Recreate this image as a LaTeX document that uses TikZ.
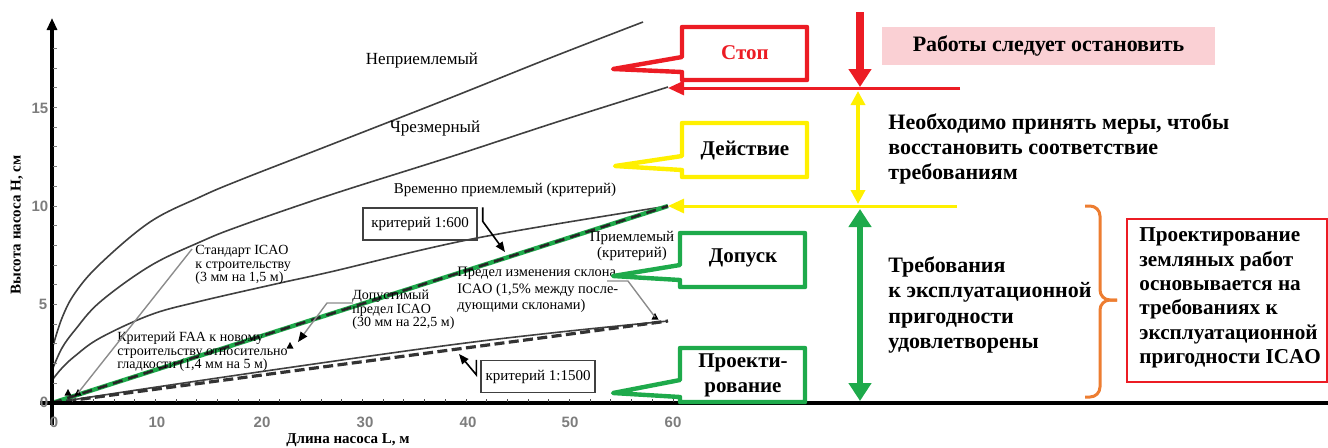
\documentclass[tikz,border=0pt]{standalone}
\usepackage{fontspec}
\setmainfont{Liberation Serif}
\setsansfont{Liberation Sans}
\usetikzlibrary{arrows.meta}
\definecolor{cred}{RGB}{236,28,36}
\definecolor{cyel}{RGB}{255,240,0}
\definecolor{cgrn}{RGB}{30,170,75}
\definecolor{cpink}{RGB}{250,208,212}
\definecolor{corg}{RGB}{237,125,49}
\definecolor{tickgray}{RGB}{125,125,125}
\definecolor{leadgray}{RGB}{140,140,140}
\begin{document}
\begin{tikzpicture}[x=0.5pt,y=-0.5pt,
  axisline/.style={line width=1.6pt,black},
  curve/.style={line width=0.8pt,black!75},
  small/.style={font=\fontsize{7}{6.8}\selectfont,inner sep=0pt,align=left,anchor=west},
  ticklab/.style={font=\sffamily\bfseries\fontsize{7.5}{8}\selectfont,text=tickgray,inner sep=0pt},
  cbox/.style={line width=2.2pt,line join=round},
  ctext/.style={font=\bfseries\fontsize{10.5}{12.5}\selectfont,inner sep=0pt,align=center},
  rtext/.style={font=\bfseries\fontsize{11}{12.6}\selectfont,align=left,inner sep=0pt,anchor=west},
  crit/.style={draw=black!75,line width=0.7pt,minimum width=57pt,minimum height=16pt,font=\fontsize{7.5}{9}\selectfont,inner sep=0pt},
  leader/.style={leadgray,line width=0.7pt},
  bracepath/.style={corg,line width=1.5pt,rounded corners=5pt},
  axtitle/.style={font=\bfseries\fontsize{7.5}{9}\selectfont,inner sep=0pt}
]
\useasboundingbox (0,0) rectangle (1328,447);

% ---------- chart curves ----------
\draw[curve] plot[smooth,tension=0.6] coordinates {(53,346) (62,318) (75,293) (100,264) (150,222) (200,197) (240,180) (330,145) (450,98) (550,58) (643,22)};
\draw[curve] plot[smooth,tension=0.6] coordinates {(53,368) (62,348) (75,330) (100,302) (150,266) (200,242) (240,226) (330,195) (450,157) (560,121) (668,87)};
\draw[curve] plot[smooth,tension=0.6] coordinates {(53,379) (62,368) (75,356) (100,338) (150,315) (197,302) (280,283) (330,272) (477,238) (668,206)};
\draw[curve] plot[smooth,tension=0.6] coordinates {(52,403) (150,388) (300,366) (450,345) (560,332) (668,321)};

% criterion lines
\coordinate (org) at (52,403);
\coordinate (e600) at (668,206);
\coordinate (e1500) at (668,321);
\draw[cgrn,line width=2.2pt] (org) -- (e600);
\draw[black!85,line width=1.3pt,dash pattern=on 5pt off 3pt] (org) -- (e600);
\draw[black!80,line width=1.6pt,dash pattern=on 5pt off 2.2pt] (org) -- (e1500);

% markers
\foreach \mx/\my/\nm in {68/393/mka,78/393/mkb,290/346/mkc,655/317/mkd}{
  \coordinate (\nm) at (\mx,\my);
  \fill[black] (\nm) +(-3.5,2.5) -- +(3.5,2.5) -- +(0,-4) -- cycle;
}

% ---------- axes ----------
\draw[axisline,-{Triangle[width=5pt,length=6pt]}] (52,425) -- (52,18);
\draw[axisline] (40,403) -- (1328,403);
\foreach \h in {1,...,18} \draw[tickgray,line width=0.5pt] (53,{403-19.7*\h}) -- ++(4,0);
\foreach \l in {2,4,...,60} \draw[black!70,line width=0.5pt] ({52+10.35*\l},402) -- ++(0,-3);

\node[ticklab] (y15) at (40,108) {15};
\node[ticklab] (y10) at (40,206) {10};
\node[ticklab] (y5) at (43,304) {5};
\node[ticklab] (y0) at (44,402) {0};
\node[ticklab] (x0) at (54,422) {0};
\node[ticklab] (x10) at (157,422) {10};
\node[ticklab] (x20) at (262,422) {20};
\node[ticklab] (x30) at (365,422) {30};
\node[ticklab] (x40) at (468,422) {40};
\node[ticklab] (x50) at (570,422) {50};
\node[ticklab] (x60) at (673,422) {60};

\node[axtitle,rotate=90] (ytitle) at (17,225) {Высота насоса H, см};
\node[axtitle] (xtitle) at (348,440) {Длина насоса L, м};

% ---------- chart labels ----------
\node[font=\fontsize{8.5}{10}\selectfont,inner sep=0pt] (unacc) at (422,60) {Неприемлемый};
\node[font=\fontsize{8.5}{10}\selectfont,inner sep=0pt] (exc) at (435,128) {Чрезмерный};
\node[font=\fontsize{7.5}{9}\selectfont,inner sep=0pt] (temp) at (505,190) {Временно приемлемый (критерий)};
\node[font=\fontsize{7.5}{8}\selectfont,inner sep=0pt,align=center] (accl) at (632,246) {Приемлемый\\(критерий)};
\node[small] (std) at (195,265) {Стандарт ICAO\\к строительству\\(3 мм на 1,5 м)};
\node[small] (faa) at (117,352) {Критерий FAA к новому\\строительству относительно\\гладкости (1,4 мм на 5 м)};
\node[small] (dop) at (352,310) {Допустимый\\предел ICAO\\(30 мм на 22,5 м)};
\node[small,font=\fontsize{7.2}{8.2}\selectfont] (pred) at (457,290) {Предел изменения склона\\ICAO (1,5\% между после-\\дующими склонами)};

\node[crit] (b600) at (420,224) {критерий 1:600};
\node[crit] (b1500) at (538,376.5) {критерий 1:1500};

% leaders
\coordinate (stdA) at (192,249);
\draw[leader] (stdA) -- (mkb);
\coordinate (dopA) at (353,303);
\coordinate (dopT) at (298,342);
\draw[leader,-{Triangle[width=4pt,length=5pt,color=black]}] (dopA) -- (327,303) -- (dopT);
\coordinate (predA) at (607,281);
\draw[leader] (predA) -- (628,281) -- (mkd);
\coordinate (t600) at (505,252);
\draw[black,line width=0.8pt,-{Triangle[width=4pt,length=5pt]}] (b600.north east) ++(5,0) -- ++(0,14) -- (t600);
\coordinate (t1500) at (459,354);
\draw[black,line width=0.8pt,-{Triangle[width=4pt,length=5pt]}] (b1500.north west) ++(-4,0) -- ++(0,15) -- (t1500);

% ---------- callouts ----------
\draw[cbox,draw=cred] (807,27) -- (682,27) -- (682,57) -- (613,69) -- (682,72) -- (682,80) -- (807,80) -- cycle;
\node[ctext,text=cred] (stop) at (745,53) {Стоп};
\draw[cbox,draw=cyel] (807,123) -- (682,123) -- (682,156) -- (615,166) -- (682,170) -- (682,177) -- (807,177) -- cycle;
\node[ctext] (act) at (745,150) {Действие};
\draw[cbox,draw=cgrn] (805,233) -- (680,233) -- (680,265) -- (613,276) -- (680,280) -- (680,287) -- (805,287) -- cycle;
\node[ctext] (tol) at (743,258) {Допуск};
\draw[cbox,draw=cgrn] (805,348) -- (680,348) -- (680,380) -- (613,393) -- (680,397) -- (680,402) -- (805,402) -- cycle;
\node[ctext] (des) at (743,375) {Проекти-\\рование};

% ---------- level lines and arrows ----------
\coordinate (rR) at (960,88);
\coordinate (rL) at (668,88);
\coordinate (rTop) at (860,12);
\coordinate (rMid) at (860,87);
\draw[cred,line width=1.5pt,-{Triangle[width=7pt,length=8pt]}] (rR) -- (rL);
\draw[cred,line width=4pt,-{Triangle[width=11pt,length=9pt]}] (rTop) -- (rMid);
\coordinate (yR) at (957,206);
\coordinate (yL) at (668,206);
\draw[cyel,line width=1.5pt,-{Triangle[width=7pt,length=8pt]}] (yR) -- (yL);
\coordinate (yA) at (858,91);
\coordinate (yB) at (858,204);
\draw[cyel,line width=1.7pt,{Triangle[width=7pt,length=7pt]}-{Triangle[width=7pt,length=7pt]}] (yA) -- (yB);
\coordinate (gA) at (860,209);
\coordinate (gB) at (860,401);
\draw[cgrn,line width=3pt,{Triangle[width=11pt,length=9pt]}-{Triangle[width=11pt,length=9pt]}] (gA) -- (gB);

% ---------- right texts ----------
\node[fill=cpink,minimum width=166.5pt,minimum height=19pt,inner sep=0pt,font=\bfseries\fontsize{11}{13}\selectfont] (work) at (1048.5,46) {Работы следует остановить};
\node[rtext] (need) at (888,149) {Необходимо принять меры, чтобы\\восстановить соответствие\\требованиям};
\node[rtext] (req) at (888,305) {Требования\\к эксплуатационной\\пригодности\\удовлетворены};

\draw[bracepath] (1085,206) -- (1100,206) -- (1100,300) -- (1117,300);
\draw[bracepath] (1117,300) -- (1100,300) -- (1100,397) -- (1085,397);

\node[draw=cred,line width=1pt,minimum width=100pt,minimum height=81.5pt,inner sep=0pt] (rbox) at (1227,300.5) {};
\node[rtext,font=\bfseries\fontsize{10.6}{12.2}\selectfont] (rbt) at (1139,298) {Проектирование\\земляных работ\\основывается на\\требованиях к\\эксплуатационной\\пригодности ICAO};
\end{tikzpicture}
\end{document}
